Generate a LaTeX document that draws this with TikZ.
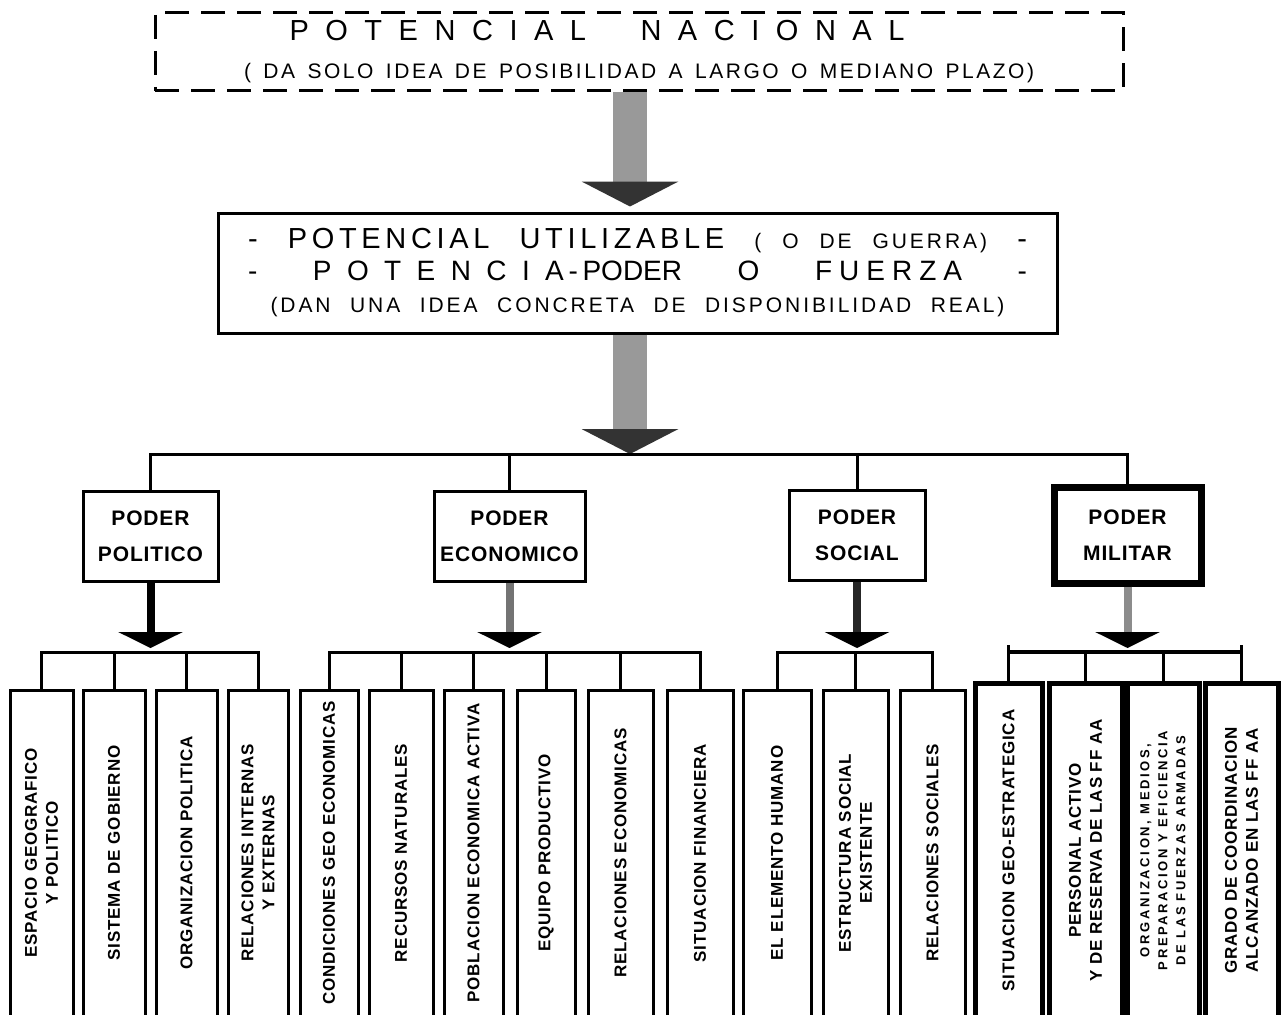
\documentclass[tikz,border=0pt]{standalone}
\usepackage{fontspec}
\setmainfont{Liberation Sans}
\usetikzlibrary{positioning}
\usetikzlibrary{arrows.meta}

\newcommand{\spaced}[1]{\addfontfeature{LetterSpace=#1}}

\begin{document}
\begin{tikzpicture}[x=1pt, y=-1pt,
	frame/.style={draw, line width=3pt, inner sep=0pt, align=center},
	poder/.style={frame, minimum height=90pt, font=\fontsize{21}{36}\selectfont\bfseries\spaced{4}},
	leaf/.style={frame, rotate=90, minimum width=326pt, font=\fontsize{17}{21}\selectfont\bfseries\spaced{5}},
	milleaf/.style={leaf, line width=5pt, minimum width=335pt},
	bus/.style={line width=3pt},
	bigarrow/.style={line width=34pt, color=black!40, -{Triangle[width=96pt, length=25pt, color=black!80]}},
	smallarrow/.style={line width=8pt, -{Triangle[width=64pt, length=16pt, color=black]}}]
	\useasboundingbox[fill=white] (0,0) rectangle (1284,1014);

	\node[frame, dash pattern=on 24pt off 12pt, minimum width=968pt, minimum height=78pt, font=\fontsize{21}{38}\selectfont] (nac) at (639,52)
		{\makebox[615pt][s]{\fontsize{29}{38}\selectfont\spaced{57}POTENCIAL NACIONAL}\hspace*{84pt}\\
		\makebox[790pt][s]{\spaced{12}( DA SOLO IDEA DE POSIBILIDAD A LARGO O MEDIANO PLAZO)}};
	\node[frame, minimum width=839pt, minimum height=120pt, font=\fontsize{21}{32}\selectfont] (util) at (637.5,273)
		{\makebox[779pt][s]{\fontsize{29}{32}\selectfont\spaced{16}- POTENCIAL UTILIZABLE {\fontsize{21}{32}\selectfont\spaced{14}( O DE GUERRA)} -}\\
		\makebox[779pt][s]{\fontsize{28}{32}\selectfont - {\spaced{55}POTENCIA}\,-\,PODER O {\spaced{25}FUERZA} -}\\
		\makebox[734pt][s]{\spaced{14}(DAN UNA IDEA CONCRETA DE DISPONIBILIDAD REAL)}};

	\node[poder, minimum width=135pt] (pol) at (150.5,536) {PODER\\POLITICO};
	\node[poder, minimum width=151pt] (eco) at (509.5,536.5) {PODER\\ECONOMICO};
	\node[poder, minimum width=136pt] (soc) at (857,535) {PODER\\SOCIAL};
	\node[poder, line width=7pt, minimum width=147pt, minimum height=96pt] (mil) at (1127.5,535) {PODER\\MILITAR};

	\node[leaf, minimum height=63pt] (pol_1) at (41.5,853) {ESPACIO GEOGRAFICO\\Y POLITICO};
	\node[leaf, minimum height=62pt] (pol_2) at (114,853) {SISTEMA DE GOBIERNO};
	\node[leaf, minimum height=61pt] (pol_3) at (186.5,853) {ORGANIZACION POLITICA};
	\node[leaf, minimum height=60pt] (pol_4) at (258,853) {RELACIONES INTERNAS\\Y EXTERNAS};

	\node[leaf, minimum height=58pt] (eco_1) at (329,853) {CONDICIONES GEO ECONOMICAS};
	\node[leaf, minimum height=64pt] (eco_2) at (401,853) {RECURSOS NATURALES};
	\node[leaf, minimum height=59pt] (eco_3) at (473.5,853) {POBLACION ECONOMICA ACTIVA};
	\node[leaf, minimum height=58pt] (eco_4) at (546,853) {EQUIPO PRODUCTIVO};
	\node[leaf, minimum height=65pt] (eco_5) at (620.5,853) {RELACIONES ECONOMICAS};
	\node[leaf, minimum height=66pt] (eco_6) at (700,853) {SITUACION FINANCIERA};

	\node[leaf, minimum height=68pt] (soc_1) at (777,853) {EL ELEMENTO HUMANO};
	\node[leaf, minimum height=65pt] (soc_2) at (855.5,853) {ESTRUCTURA SOCIAL\\EXISTENTE};
	\node[leaf, minimum height=65pt] (soc_3) at (932.5,853) {RELACIONES SOCIALES};

	\node[milleaf, minimum height=67pt] (mil_1) at (1008.5,850.5) {SITUACION GEO-ESTRATEGICA};
	\node[milleaf, minimum height=73pt] (mil_2) at (1085.5,850.5) {PERSONAL ACTIVO\\Y DE RESERVA DE LAS FF AA};
	\node[milleaf, minimum height=72pt, font=\fontsize{13}{18}\selectfont\bfseries\spaced{20}] (mil_3) at (1163,850.5) {ORGANIZACION, MEDIOS,\\PREPARACION Y EFICIENCIA\\DE LAS FUERZAS ARMADAS};
	\node[milleaf, minimum height=73pt] (mil_4) at (1241.5,850.5) {GRADO DE COORDINACION\\ALCANZADO EN LAS FF AA};

	\coordinate (hub) at (630,454);
	\coordinate (sb) at (0,652);
	\coordinate (tick) at (0,645);

	\draw[bigarrow, shorten >=5pt] (nac.south -| hub) -- (util.north -| hub);
	\draw[bigarrow] (util.south -| hub) -- (hub);

	\draw[bus] (pol.north) -- (pol.north |- hub) -- (mil.north |- hub) -- (mil.north);
	\foreach \p in {eco,soc}
		\draw[bus] (\p.north |- hub) -- (\p.north);
	\foreach \p/\c in {pol/100,eco/55,soc/85,mil/45}
		\draw[smallarrow, color=black!\c, shorten >=4pt] (\p.south) -- (\p.south |- sb);

	\draw[bus] (pol_1.east) -- (pol_1.east |- sb) -- (pol_4.east |- sb) -- (pol_4.east);
	\foreach \i in {2,3}
		\draw[bus] (pol_\i.east |- sb) -- (pol_\i.east);
	\draw[bus] (eco_1.east) -- (eco_1.east |- sb) -- (eco_6.east |- sb) -- (eco_6.east);
	\foreach \i in {2,...,5}
		\draw[bus] (eco_\i.east |- sb) -- (eco_\i.east);
	\draw[bus] (soc_1.east) -- (soc_1.east |- sb) -- (soc_3.east |- sb) -- (soc_3.east);
	\draw[bus] (soc_2.east |- sb) -- (soc_2.east);
	\draw[bus, line width=4pt] (mil_1.east |- sb) -- (mil_4.east |- sb);
	\foreach \i in {1,...,4}
		\draw[bus] (mil_\i.east |- sb) -- (mil_\i.east);
	\foreach \i in {1,4}
		\draw[bus] (mil_\i.east |- tick) -- (mil_\i.east |- sb);
\end{tikzpicture}
\end{document}
